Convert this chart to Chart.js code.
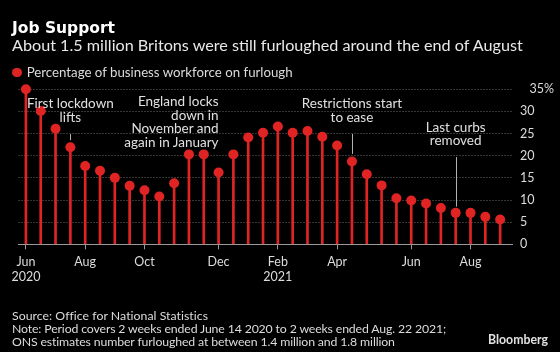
<!DOCTYPE html>
<html>
<head>
<meta charset="utf-8">
<script src="https://cdn.jsdelivr.net/npm/chart.js@4"></script>
<style>
  html, body { margin: 0; padding: 0; background: #000; }
  #wrap { position: relative; width: 560px; height: 352px; overflow: hidden; background: #000;
          font-family: Lato, "Open Sans", sans-serif; color: #dcdcdc; }
  #chart { position: absolute; left: 0; top: 0; }
  .txt { position: absolute; white-space: nowrap; line-height: 1; top: 0; }
  #title { left: 12px; font-family: "DejaVu Sans", Lato, sans-serif; font-size: 16px; font-weight: bold; color: #fff; }
  #subtitle { left: 12px; font-size: 15.5px; color: #e8e8e8; }
  #legend { left: 26.7px; font-size: 13px; }
  #legend-dot { position: absolute; left: 12.3px; top: 68px; width: 9.4px; height: 9.4px; border-radius: 50%; background: #e02424; }
  .foot { left: 12px; font-size: 12.3px; }
  #brand { left: 488px; font-size: 11.5px; font-weight: bold; color: #e0e0e0; }
  .note { position: absolute; white-space: nowrap; font-size: 13.5px; line-height: 13.6px; color: #e0e0e0; }
  .bl { display: inline-block; width: 0; height: 0; vertical-align: baseline; }
</style>
</head>
<body>
<div id="wrap">
  <canvas id="chart" width="560" height="352"></canvas>
  <div class="txt" id="title" data-w="103" data-b="32.7">Job Support</div>
  <div class="txt" id="subtitle" data-w="511" data-b="50.7">About 1.5 million Britons were still furloughed around the end of August</div>
  <div id="legend-dot"></div>
  <div class="txt" id="legend" data-w="266" data-b="77.3">Percentage of business workforce on furlough</div>
  <div class="txt foot" data-w="196" data-b="319.5">Source: Office for National Statistics</div>
  <div class="txt foot" data-w="434" data-b="332.8">Note: Period covers 2 weeks ended June 14 2020 to 2 weeks ended Aug. 22 2021;</div>
  <div class="txt foot" data-w="383" data-b="345.5">ONS estimates number furloughed at between 1.4 million and 1.8 million</div>
  <div class="txt" id="brand" data-w="60" data-b="344">Bloomberg</div>
</div>
<script>
// furlough share, one value per fortnight
const furloughPct = [35, 30.1, 26.1, 21.9, 17.7, 16.6, 15.0, 13.2, 12.2, 10.8, 13.8,
  20.3, 20.3, 16.2, 20.3, 24.1, 25.2, 26.6, 25.2, 25.6, 24.3, 22.3, 18.7, 15.8,
  13.3, 10.4, 9.9, 9.2, 8.2, 7.1, 7.1, 6.2, 5.6];
const categories = furloughPct.map((v, i) => i);

// which periods get a month label
const tickIndex = [0, 4, 8, 13, 17, 21, 26, 30];
const tickLabels = [["Jun", "2020"], "Aug", "Oct", "Dec", ["Feb", "2021"], "Apr", "Jun", "Aug"];
const yTicks = [0, 5, 10, 15, 20, 25, 30, 35];

// notes: period index, value at first baseline, lines, connector from/to values
const notes = [
  { idx: 3, base: 30.7, lines: ["First lockdown", "lifts"], align: "center", line: [24.9, 23.5] },
  { idx: 13, base: 31.2, lines: ["England locks", "down in", "November and", "again in January"], align: "right", line: null },
  { idx: 22, base: 30.7, lines: ["Restrictions start", "to ease"], align: "center", line: [24.9, 20.4] },
  { idx: 29, base: 25.4, lines: ["Last curbs", "removed"], align: "center", line: [19.7, 8.5] },
];

const red = "#e02424";
const labelColor = "#dcdcdc";
const points = categories.map((c, i) => ({ x: c, y: furloughPct[i] }));

// grey connector lines for the notes
const connectors = {
  id: "connectors",
  afterDatasetsDraw(chart) {
    const { ctx, scales } = chart;
    ctx.save();
    ctx.strokeStyle = "#b0b0b0";
    ctx.lineWidth = 1;
    notes.filter((n) => n.line).forEach((n) => {
      const x = Math.round(scales.x.getPixelForValue(n.idx)) + 0.5;
      ctx.beginPath();
      ctx.moveTo(x, scales.y.getPixelForValue(n.line[0]));
      ctx.lineTo(x, scales.y.getPixelForValue(n.line[1]));
      ctx.stroke();
    });
    ctx.restore();
  },
};

const chart = new Chart(document.getElementById("chart"), {
  type: "bar",
  data: {
    datasets: [
      {
        type: "line",
        data: points,
        showLine: false,
        pointRadius: 5,
        pointHoverRadius: 5,
        pointBackgroundColor: red,
        pointBorderWidth: 0,
        clip: false,
        order: 0,
      },
      {
        type: "bar",
        data: points,
        backgroundColor: red,
        barThickness: 2,
        order: 1,
      },
    ],
  },
  options: {
    responsive: false,
    animation: false,
    devicePixelRatio: 1,
    layout: { padding: { left: 18.5, top: 89.3, right: 0, bottom: 67.7 } },
    plugins: { legend: { display: false }, tooltip: { enabled: false } },
    scales: {
      x: {
        type: "linear",
        min: -0.5,
        max: 32.8,
        offset: false,
        afterFit: (s) => { s.height = 40; },
        afterBuildTicks: (s) => { s.ticks = tickIndex.map((v) => ({ value: v })); },
        ticks: {
          callback: (v) => tickLabels[tickIndex.indexOf(v)],
          color: labelColor,
          font: { family: "Lato", size: 12.5 },
          padding: 5,
          maxRotation: 0,
          autoSkip: false,
        },
        grid: { offset: false, drawOnChartArea: false, drawTicks: true, tickLength: 5, color: "#9a9a9a" },
        border: { color: "#9a9a9a", width: 1 },
      },
      y: {
        position: "right",
        min: 0,
        max: 35,
        afterFit: (s) => { s.width = 48; },
        afterBuildTicks: (s) => { s.ticks = yTicks.map((v) => ({ value: v })); },
        ticks: {
          callback: (v) => (v === 35 ? "   35%" : v),
          color: labelColor,
          font: { family: "Lato", size: 12.5 },
          padding: 8,
        },
        grid: { color: "#6a6a6a", drawTicks: false, lineWidth: 1 },
        border: { display: false, dash: [1, 2] },
      },
    },
  },
  plugins: [connectors],
});

// put a text element's baseline at y
const wrap = document.getElementById("wrap");
const wrapTop = wrap.getBoundingClientRect().top;
const setBaseline = (el, y) => {
  const mark = document.createElement("span");
  mark.className = "bl";
  el.insertBefore(mark, el.firstChild);
  const cur = mark.getBoundingClientRect().top - wrapTop;
  el.style.top = (parseFloat(el.style.top || 0) + y - cur) + "px";
  mark.remove();
};

// match the widths in the original: footer lines by spacing, the rest by size
document.querySelectorAll(".txt").forEach((el) => {
  const w = el.getBoundingClientRect().width;
  const target = parseFloat(el.dataset.w);
  if (el.classList.contains("foot")) {
    el.style.letterSpacing = ((target - w) / el.textContent.length).toFixed(3) + "px";
  } else {
    const size = parseFloat(getComputedStyle(el).fontSize);
    el.style.fontSize = (size * target / w).toFixed(2) + "px";
  }
  el.style.top = "0px";
  setBaseline(el, parseFloat(el.dataset.b));
});

// note text placed through the chart scales
notes.forEach((n) => {
  const d = document.createElement("div");
  d.className = "note";
  d.innerHTML = n.lines.join("<br>");
  d.style.left = chart.scales.x.getPixelForValue(n.idx) + "px";
  d.style.top = "0px";
  d.style.textAlign = n.align;
  d.style.transform = n.align === "right" ? "translateX(-100%)" : "translateX(-50%)";
  wrap.appendChild(d);
  setBaseline(d, chart.scales.y.getPixelForValue(n.base));
});
</script>
</body>
</html>
